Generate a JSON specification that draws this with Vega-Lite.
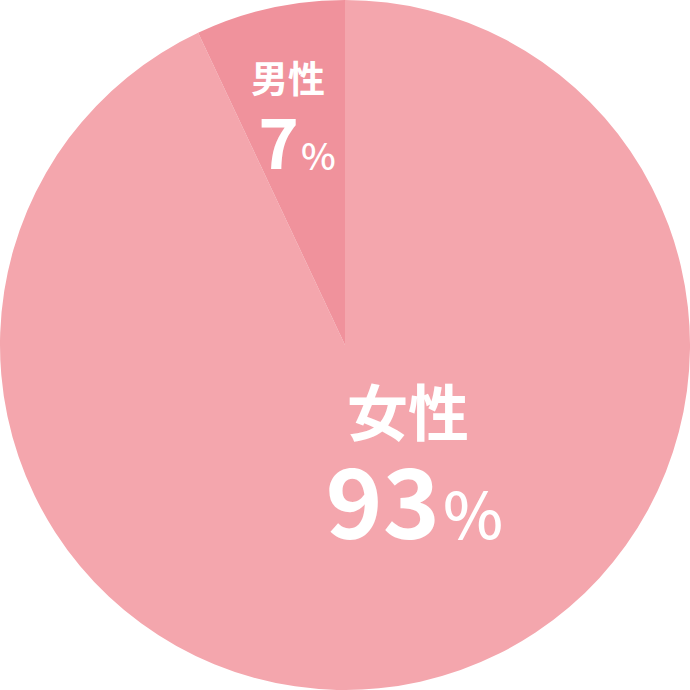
{
  "$schema": "https://vega.github.io/schema/vega-lite/v6.json",
  "width": 690,
  "height": 690,
  "autosize": {"type": "fit", "contains": "padding"},
  "padding": 0,
  "background": "white",
  "view": {"stroke": null},
  "data": {
    "values": [
      {"gender": "女性", "share": 93, "rank": 1},
      {"gender": "男性", "share": 7, "rank": 2}
    ]
  },
  "layer": [
    {
      "mark": {"type": "arc", "outerRadius": 345, "stroke": null},
      "encoding": {
        "theta": {"field": "share", "type": "quantitative", "stack": true},
        "order": {"field": "rank", "type": "quantitative"},
        "color": {
          "field": "gender",
          "type": "nominal",
          "scale": {"domain": ["女性", "男性"], "range": ["#f4a6ad", "#f0929c"]},
          "legend": null
        }
      }
    },
    {
      "transform": [{"filter": "datum.gender == '女性'"}],
      "mark": {"type": "text", "font": "Noto Sans CJK JP", "fontWeight": "bold", "fontSize": 61, "color": "white", "align": "center", "baseline": "middle", "dx": 63, "dy": 73},
      "encoding": {"text": {"field": "gender"}}
    },
    {
      "transform": [{"filter": "datum.gender == '女性'"}],
      "mark": {"type": "text", "font": "Noto Sans CJK JP", "fontWeight": "bold", "fontSize": 97, "color": "white", "align": "right", "baseline": "alphabetic", "dx": 95, "dy": 194},
      "encoding": {"text": {"field": "share"}}
    },
    {
      "transform": [{"filter": "datum.gender == '女性'"}],
      "mark": {"type": "text", "font": "Noto Sans CJK JP", "fontWeight": 500, "fontSize": 64, "color": "white", "align": "left", "baseline": "alphabetic", "dx": 98, "dy": 194},
      "encoding": {"text": {"value": "%"}}
    },
    {
      "transform": [{"filter": "datum.gender == '男性'"}],
      "mark": {"type": "text", "font": "Noto Sans CJK JP", "fontWeight": "bold", "fontSize": 37, "color": "white", "align": "center", "baseline": "middle", "dx": -57, "dy": -263},
      "encoding": {"text": {"field": "gender"}}
    },
    {
      "transform": [{"filter": "datum.gender == '男性'"}],
      "mark": {"type": "text", "font": "Noto Sans CJK JP", "fontWeight": "bold", "fontSize": 69, "color": "white", "align": "right", "baseline": "alphabetic", "dx": -46, "dy": -176},
      "encoding": {"text": {"field": "share"}}
    },
    {
      "transform": [{"filter": "datum.gender == '男性'"}],
      "mark": {"type": "text", "font": "Noto Sans CJK JP", "fontWeight": 500, "fontSize": 37, "color": "white", "align": "left", "baseline": "alphabetic", "dx": -44, "dy": -175},
      "encoding": {"text": {"value": "%"}}
    }
  ]
}
